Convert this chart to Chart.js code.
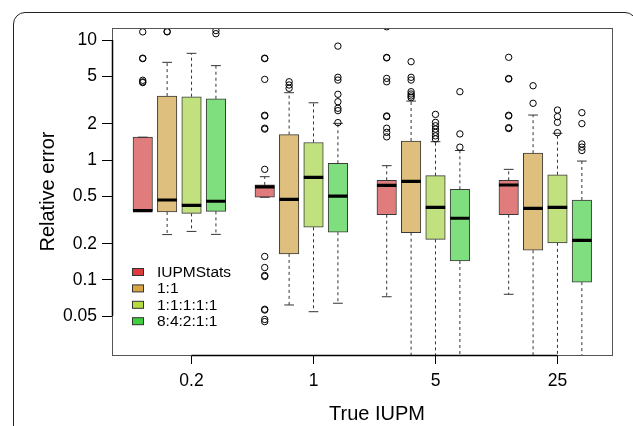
<!DOCTYPE html>
<html>
<head>
<meta charset="utf-8">
<script src="https://cdn.jsdelivr.net/npm/chart.js@4/dist/chart.umd.min.js"></script>
<style>
  body { margin: 0; background: #fff; }
  #wrap { position: relative; width: 633px; height: 426px; overflow: hidden; }
  #frame {
    position: absolute; left: 13px; top: 12px; width: 624px; height: 500px;
    border: 1.5px solid #222; border-radius: 12px; box-sizing: border-box;
  }
  #chart { position: absolute; left: 0; top: 0; }
</style>
</head>
<body>
<div id="wrap">
  <div id="frame"></div>
  <canvas id="chart" width="633" height="426"></canvas>
</div>
<script>
// groups on the x axis (true IUPM) and the four methods
const groups = ["0.2", "1", "5", "25"];
const seriesNames = ["IUPMStats", "1:1", "1:1:1:1:1", "8:4:2:1:1"];
const yTicks = [10, 5, 2, 1, 0.5, 0.2, 0.1, 0.05];

// rows = series, columns = groups
const whiskerLo = [
    [0.376, 0.489, 0.0725, 0.076],
    [0.239, 0.0619, 0.005, 0.005],
    [0.254, 0.0544, 0.005, 0.005],
    [0.240, 0.064, 0.005, 0.005]
];
const q1 = [
    [0.376, 0.489, 0.35, 0.35],
    [0.369, 0.165, 0.248, 0.177],
    [0.359, 0.275, 0.218, 0.204],
    [0.373, 0.25, 0.144, 0.096]
];
const median = [
    [0.379, 0.598, 0.615, 0.619],
    [0.464, 0.470, 0.664, 0.396],
    [0.419, 0.717, 0.403, 0.403],
    [0.453, 0.501, 0.327, 0.214]
];
const q3 = [
    [1.55, 0.62, 0.677, 0.677],
    [3.41, 1.63, 1.44, 1.14],
    [3.37, 1.40, 0.74, 0.754],
    [3.24, 0.939, 0.570, 0.464]
];
const whiskerHi = [
    [1.55, 0.726, 0.897, 0.836],
    [6.52, 3.64, 3.10, 2.37],
    [7.75, 3.0, 1.42, 1.67],
    [6.12, 2.02, 1.20, 0.98]
];
const outliers = [
    [
        [11.7, 7.0, 7.06, 4.62, 4.42, 4.48],
        [7.0, 7.06, 4.7, 2.33, 2.36, 1.81, 1.84, 0.836, 0.157, 0.127, 0.107, 0.109, 0.0562, 0.057, 0.0469, 0.045],
        [12.9, 7.1, 7.16, 4.79, 4.49, 2.30, 2.33, 1.84, 1.70, 1.56],
        [7.18, 4.73, 4.78, 2.33, 2.36, 1.86, 1.83]
    ],
    [
        [11.7, 11.8],
        [4.49, 4.22, 3.96],
        [6.6, 4.89, 4.64, 3.71, 3.55, 3.42, 3.31],
        [4.16, 2.97]
    ],
    [
        [],
        [],
        [2.40, 2.06, 1.93, 1.81, 1.70, 1.59, 1.50],
        [2.61, 2.30, 2.06, 1.69]
    ],
    [
        [12.0, 11.3],
        [8.9, 4.89, 4.64, 3.53, 3.06, 2.70, 2.58, 2.05],
        [3.71, 1.65, 1.28],
        [2.48, 2.01, 1.36, 1.28, 1.20]
    ]
];

const boxFill = ["#e07c7c", "#dfbf7e", "#c1e07e", "#7fdf7f"];
const keyFill = ["#dc3a3e", "#d9a540", "#b5dc3c", "#3fcf3f"];
const FONT = "'Liberation Sans', Arial, Helvetica, sans-serif";

// box centre on the x scale: third box of each group sits on the tick
const xOf = (g, s) => g + (s - 2) * 0.2;
const halfBox = 0.08;
const halfCap = 0.04;

const datasets = [];

seriesNames.forEach((name, s) => {
    datasets.push({
        type: "bar",
        label: name,
        data: groups.map((_, g) => ({ x: xOf(g, s), y: [q1[s][g], q3[s][g]] })),
        backgroundColor: boxFill[s],
        borderColor: "#3a3a3a",
        borderWidth: 1,
        borderSkipped: false,
        barThickness: 19.5,
        grouped: false,
        order: 4
    });
});

const whiskers = [], caps = [], medians = [], points = [];
seriesNames.forEach((_, s) => {
    groups.forEach((_, g) => {
        const x = xOf(g, s);
        whiskers.push({ x, y: q3[s][g] }, { x, y: whiskerHi[s][g] }, { x, y: null });
        whiskers.push({ x, y: q1[s][g] }, { x, y: whiskerLo[s][g] }, { x, y: null });
        caps.push({ x: x - halfCap, y: whiskerHi[s][g] }, { x: x + halfCap, y: whiskerHi[s][g] }, { x, y: null });
        caps.push({ x: x - halfCap, y: whiskerLo[s][g] }, { x: x + halfCap, y: whiskerLo[s][g] }, { x, y: null });
        medians.push({ x: x - halfBox, y: median[s][g] }, { x: x + halfBox, y: median[s][g] }, { x, y: null });
        outliers[s][g].forEach(v => points.push({ x, y: v }));
    });
});

const lineBase = { type: "line", pointRadius: 0, tension: 0, fill: false, spanGaps: false };
datasets.push(Object.assign({}, lineBase, { label: "_whisker", data: whiskers, borderColor: "#333", borderWidth: 1, borderDash: [3, 3], order: 3 }));
datasets.push(Object.assign({}, lineBase, { label: "_cap", data: caps, borderColor: "#333", borderWidth: 1, order: 2 }));
datasets.push(Object.assign({}, lineBase, { label: "_median", data: medians, borderColor: "#000", borderWidth: 3.2, order: 0 }));
datasets.push({
    type: "scatter", label: "_out", data: points,
    pointRadius: 3.2, pointBorderWidth: 1, pointBorderColor: "#000",
    pointBackgroundColor: "rgba(0,0,0,0)", order: 1
});

const framePlugin = {
    id: "frame",
    afterDraw(chart) {
        const { ctx, chartArea: a, scales } = chart;
        ctx.save();
        ctx.strokeStyle = "#555";
        ctx.lineWidth = 1;
        ctx.strokeRect(Math.round(a.left) + 0.5, Math.round(a.top) + 0.5, Math.round(a.width), Math.round(a.bottom - a.top));
        // axis lines over the tick range
        ctx.strokeStyle = "#000";
        ctx.lineWidth = 1.5;
        ctx.beginPath();
        const yT = scales.y.getPixelForValue(yTicks[0]), yB = scales.y.getPixelForValue(yTicks[yTicks.length - 1]);
        ctx.moveTo(a.left + 0.5, yT); ctx.lineTo(a.left + 0.5, yB);
        const xL = scales.x.getPixelForValue(0), xR = scales.x.getPixelForValue(groups.length - 1);
        ctx.moveTo(xL, a.bottom + 0.5); ctx.lineTo(xR, a.bottom + 0.5);
        ctx.stroke();

        // legend inside the plot, lower left
        ctx.font = "15.5px " + FONT;
        ctx.textBaseline = "middle";
        ctx.fillStyle = "#000";
        seriesNames.forEach((name, s) => {
            const cy = 272 + s * 16.4;
            ctx.fillStyle = keyFill[s];
            ctx.fillRect(132, cy - 3.5, 11, 7);
            ctx.strokeStyle = "#333";
            ctx.lineWidth = 1;
            ctx.strokeRect(132.5, cy - 3.5, 11, 7);
            ctx.fillStyle = "#000";
            ctx.fillText(name, 157, cy + 0.5);
        });

        // x axis title
        ctx.font = "20px " + FONT;
        ctx.textAlign = "center";
        ctx.fillText("True IUPM", (a.left + a.right) / 2 + 15, 414);
        ctx.restore();
    }
};

new Chart(document.getElementById("chart"), {
    type: "bar",
    data: { datasets },
    options: {
        responsive: false,
        animation: false,
        layout: { padding: { top: 28, right: 21, left: 0, bottom: 0 } },
        plugins: { legend: { display: false }, tooltip: { enabled: false } },
        scales: {
            x: {
                type: "linear",
                offset: false,
                min: -0.652,
                max: 3.447,
                afterBuildTicks: s => { s.ticks = groups.map((_, i) => ({ value: i })); },
                afterFit: s => { s.height = 71; },
                ticks: {
                    callback: (v, i) => groups[i],
                    color: "#000",
                    padding: 7,
                    maxRotation: 0,
                    font: { family: FONT, size: 17.5 }
                },
                grid: { offset: false, drawOnChartArea: false, color: "#000", tickLength: 9, tickWidth: 1 },
                border: { display: false }
            },
            y: {
                type: "logarithmic",
                min: 0.0237,
                max: 12.6,
                afterBuildTicks: s => { s.ticks = yTicks.map(v => ({ value: v })); },
                afterFit: s => { s.width = 112; },
                ticks: {
                    callback: v => String(v),
                    color: "#000",
                    padding: 5,
                    font: { family: FONT, size: 17.5 }
                },
                grid: { drawOnChartArea: false, color: "#000", tickLength: 10, tickWidth: 1 },
                border: { display: false },
                title: {
                    display: true,
                    text: "Relative error",
                    color: "#000",
                    padding: { top: 36, bottom: 0 },
                    font: { family: FONT, size: 20 }
                }
            }
        }
    },
    plugins: [framePlugin]
});
</script>
</body>
</html>
